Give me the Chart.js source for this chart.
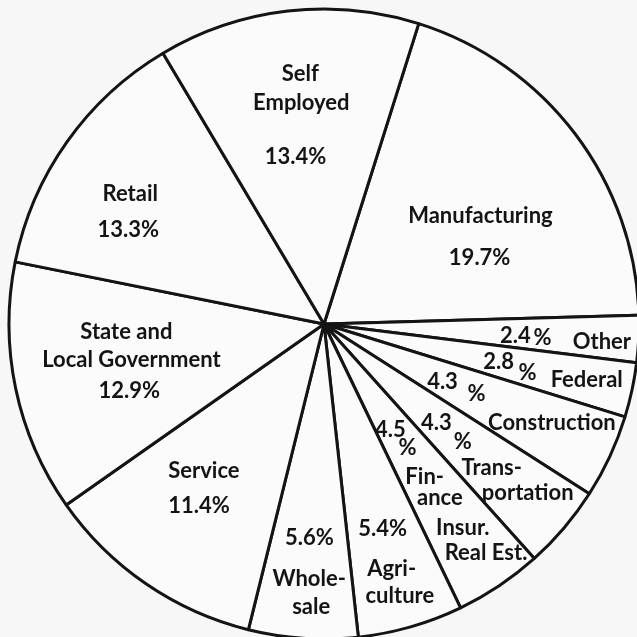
<!DOCTYPE html>
<html>
<head>
<meta charset="utf-8">
<title>Employment by sector</title>
<script src="https://cdn.jsdelivr.net/npm/chart.js@4"></script>
<style>
  html, body { margin: 0; padding: 0; background: #f7f7f7; }
  #wrap { width: 637px; height: 637px; overflow: hidden; }
</style>
</head>
<body>
<div id="wrap"><canvas id="pieChart" width="637" height="637"></canvas></div>
<script>
// sectors, clockwise from the top right
const sectors = ['Manufacturing', 'Other', 'Federal', 'Construction', 'Transportation',
  'Finance, Insurance, Real Estate', 'Agriculture', 'Wholesale', 'Service',
  'State and Local Government', 'Retail', 'Self Employed'];
const shares = [19.7, 2.4, 2.8, 4.3, 4.3, 4.5, 5.4, 5.6, 11.4, 12.9, 13.3, 13.4];

// text lines inside each slice: [text, fraction across the slice, fraction of radius]
// {v} is replaced by the share
const sliceText = [
  [['Manufacturing', 0.533, 0.604], ['{v}%', 0.697, 0.537]],
  [['{v}', 0.60, 0.609], ['%', 0.60, 0.695], ['Other', 0.60, 0.884]],
  [['{v}', 0.50, 0.567], ['%', 0.63, 0.664], ['Federal', 0.50, 0.853]],
  [['{v}', 0.58, 0.419], ['%', 0.49, 0.533], ['Construction', 0.41, 0.789]],
  [['{v}', 0.57, 0.476], ['%', 0.50, 0.578], ['Trans-', 0.52, 0.702], ['portation', 0.46, 0.841]],
  [['{v}', 0.61, 0.398], ['%', 0.49, 0.475], ['Fin-', 0.53, 0.582], ['ance', 0.51, 0.664],
   ['Insur.', 0.47, 0.782], ['Real Est.', 0.41, 0.891]],
  [['{v}%', 0.50, 0.675], ['Agri-', 0.527, 0.806], ['culture', 0.52, 0.896]],
  [['{v}%', 0.506, 0.680], ['Whole-', 0.476, 0.810], ['sale', 0.439, 0.899]],
  [['Service', 0.619, 0.602], ['{v}%', 0.502, 0.700]],
  [['State and', 0.704, 0.628], ['Local Government', 0.525, 0.622], ['{v}%', 0.349, 0.653]],
  [['Retail', 0.470, 0.741], ['{v}%', 0.297, 0.689]],
  [['Self', 0.525, 0.796], ['Employed', 0.516, 0.707], ['{v}%', 0.437, 0.539]]
];

const inkColor = '#141414';

const sliceLabels = {
  id: 'sliceLabels',
  afterDatasetsDraw(chart) {
    const ctx = chart.ctx;
    const meta = chart.getDatasetMeta(0);
    ctx.save();
    ctx.fillStyle = inkColor;
    ctx.font = 'bold 22px Lato';
    ctx.textAlign = 'center';
    ctx.textBaseline = 'middle';
    meta.data.forEach((arc, i) => {
      const p = arc.getProps(['x', 'y', 'startAngle', 'endAngle', 'outerRadius'], true);
      sliceText[i].forEach(([txt, t, rf]) => {
        const a = p.startAngle + t * (p.endAngle - p.startAngle);
        const r = rf * p.outerRadius;
        ctx.fillText(txt.replace('{v}', shares[i]), p.x + Math.cos(a) * r, p.y + Math.sin(a) * r);
      });
    });
    ctx.restore();
  }
};

new Chart(document.getElementById('pieChart'), {
  type: 'pie',
  data: {
    labels: sectors,
    datasets: [{
      data: shares,
      backgroundColor: '#fbfbfb',
      borderColor: inkColor,
      borderWidth: 3,
      radius: 315
    }]
  },
  options: {
    responsive: false,
    animation: false,
    rotation: 17.5,
    layout: { padding: { left: 11, top: 11, right: 0, bottom: 0 } },
    plugins: {
      legend: { display: false },
      tooltip: { enabled: false }
    }
  },
  plugins: [sliceLabels]
});
</script>
</body>
</html>
